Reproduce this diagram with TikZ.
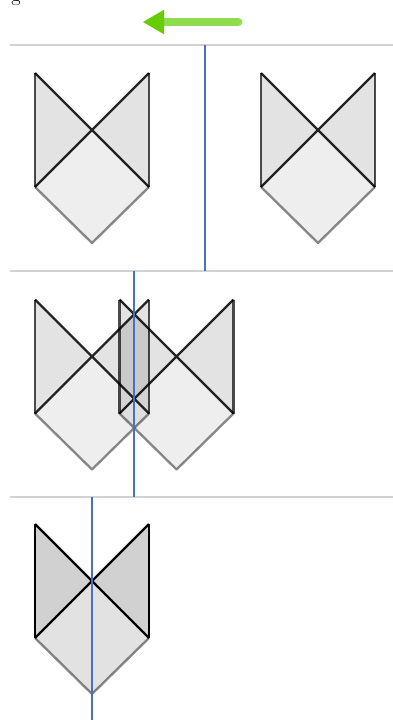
\documentclass[tikz,border=0pt]{standalone}
\usetikzlibrary{arrows.meta}
\definecolor{sepgray}{HTML}{D2D2D2}
\definecolor{cutblue}{HTML}{4A6FC2}
\definecolor{headgreen}{HTML}{66CC00}
\definecolor{shaftgreen}{HTML}{8EDC50}
\begin{document}
\begin{tikzpicture}[x=0.03cm, y=-0.03cm,
  sep/.style={draw=sepgray,line width=1.5pt},
  cut/.style={draw=cutblue,line width=2pt},
  edge/.style={draw=black,line width=2pt,line join=round}]
\useasboundingbox (0,0) rectangle (393,720);
\node[anchor=base,font=\LARGE,inner sep=0pt] (cap) at (16,1.5) {g};
% panel separators
\foreach \y/\n in {45/a,271/b,497/c} {
  \coordinate (sep\n l) at (10,\y); \coordinate (sep\n r) at (393,\y);
  \draw[sep] (sep\n l) -- (sep\n r);
}
% wing shapes: center x/y, wing fill, body fill, side edge, diagonal edge
\foreach \cx/\cy/\wf/\bf/\se/\de in {92/130/0.11/0.065/0.7/0.85, 318/130/0.11/0.065/0.7/0.85,
    92/356.5/0.11/0.065/0.7/0.85, 176.5/356.5/0.11/0.065/0.7/0.85, 92/581/0.18/0.115/1/1} {
  \fill[black,fill opacity=\wf] (\cx-57,\cy-57) -- (\cx,\cy) -- (\cx-57,\cy+57) -- cycle
    (\cx+57,\cy-57) -- (\cx,\cy) -- (\cx+57,\cy+57) -- cycle;
  \fill[black,fill opacity=\bf] (\cx,\cy) -- (\cx+57,\cy+57) -- (\cx,\cy+113) -- (\cx-57,\cy+57) -- cycle;
  \draw[edge,draw opacity=0.45] (\cx-57,\cy+57) -- (\cx,\cy+113) -- (\cx+57,\cy+57);
  \draw[edge,draw opacity=\se] (\cx-57,\cy-57) -- (\cx-57,\cy+57) (\cx+57,\cy-57) -- (\cx+57,\cy+57);
  \draw[edge,draw opacity=\de] (\cx-57,\cy-57) -- (\cx+57,\cy+57) (\cx+57,\cy-57) -- (\cx-57,\cy+57);
}
% cut lines
\coordinate (cut1t) at (205,45); \coordinate (cut1b) at (205,271);
\coordinate (cut2t) at (134,271); \coordinate (cut2b) at (134,497);
\coordinate (cut3t) at (92,497); \coordinate (cut3b) at (92,720);
\draw[cut] (cut1t) -- (cut1b);
\draw[cut] (cut2t) -- (cut2b);
\draw[cut] (cut3t) -- (cut3b);
% move direction
\coordinate (tail) at (238,22); \coordinate (tip) at (143,22);
\draw[shaftgreen,line width=7.5pt,line cap=round,
  -{Triangle[length=18pt,width=21pt,color=headgreen,line width=0pt]}] (tail) -- (tip);
\end{tikzpicture}
\end{document}
